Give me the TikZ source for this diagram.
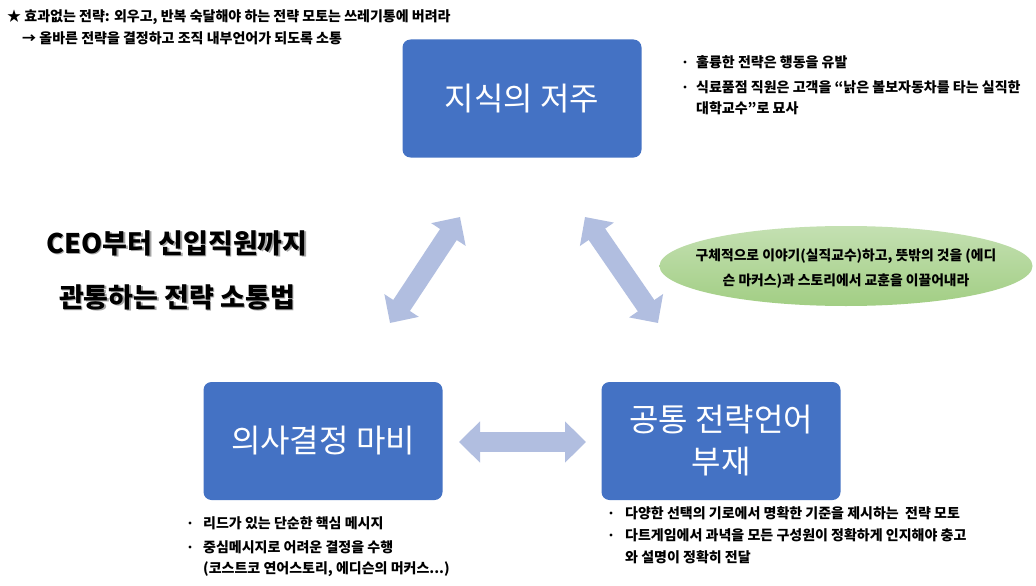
\documentclass[tikz,border=0pt]{standalone}
\usepackage{fontspec}
\setmainfont{Noto Sans CJK KR}
\usetikzlibrary{arrows.meta}
\definecolor{boxblue}{HTML}{4472C4}
\definecolor{linkblue}{RGB}{177,190,224}
\definecolor{leaftop}{RGB}{196,224,178}
\definecolor{leafbottom}{RGB}{162,206,132}
\begin{document}
\begin{tikzpicture}[x=1pt,y=-1pt,
  topic/.style={fill=boxblue,rounded corners=8pt,text=white,align=center,
    minimum width=239pt,minimum height=118pt,font=\fontsize{32}{42}\selectfont},
  note/.style={anchor=west,inner sep=0pt,font=\bfseries\fontsize{14}{16}\selectfont},
  headline/.style={inner sep=0pt,font=\bfseries\fontsize{27}{30}\selectfont},
  link/.style={linkblue,line width=20pt,
    {Triangle[length=21pt,width=40pt]}-{Triangle[length=21pt,width=40pt]}}]
  \fill[white] (0,0) rectangle (1036,586);
  \useasboundingbox (0,0) rectangle (1036,586);

  % top left remark
  \node[note] (star) at (7,17) {★ 효과없는 전략: 외우고, 반복 숙달해야 하는 전략 모토는 쓰레기통에 버려라};
  \node[note] (hint) at (22,38) {→ 올바른 전략을 결정하고 조직 내부언어가 되도록 소통};

  % three boxes
  \node[topic] (curse) at (522,98.5) {지식의 저주};
  \node[topic] (paralysis) at (323,441) {의사결정 마비};
  \node[topic] (language) at (721,441) {공통 전략언어\\부재};

  % double arrows between the boxes
  \coordinate (cl) at (460,217);
  \coordinate (pl) at (390,323);
  \coordinate (cr) at (585,217);
  \coordinate (lr) at (658,323);
  \coordinate (ph) at (459,442);
  \coordinate (lh) at (586,442);
  \draw[link] (pl) -- (cl);
  \draw[link] (cr) -- (lr);
  \draw[link] (ph) -- (lh);

  % title
  \node[headline,text=black!35] at (178.5,244.5) {CEO부터 신입직원까지};
  \node[headline] (title1) at (177,243) {CEO부터 신입직원까지};
  \node[headline,text=black!35] at (178.5,298.5) {관통하는 전략 소통법};
  \node[headline] (title2) at (177,297) {관통하는 전략 소통법};

  % green story bubble
  \shade[top color=leaftop,bottom color=leafbottom] (846,266) ellipse (186.5 and 40);
  \node[note,anchor=center,align=center,font=\bfseries\fontsize{13.8}{25}\selectfont] (story) at (846,269)
    {구체적으로 이야기(실직교수)하고, 뜻밖의 것을 (에디\\ 슨 마커스)과 스토리에서 교훈을 이끌어내라};

  % notes beside the boxes
  \foreach \y in {62,87} \fill (685,\y) circle (1.6);
  \node[note] (n1) at (696,62) {훌륭한 전략은 행동을 유발};
  \node[note] (n2) at (696,87) {식료품점 직원은 고객을 “낡은 볼보자동차를 타는 실직한};
  \node[note] (n3) at (696,108) {대학교수”로 묘사};

  \foreach \y in {523,547} \fill (190,\y) circle (1.6);
  \node[note] (m1) at (203,523) {리드가 있는 단순한 핵심 메시지};
  \node[note] (m2) at (203,547) {중심메시지로 어려운 결정을 수행};
  \node[note] (m3) at (203,569) {(코스트코 연어스토리, 에디슨의 머커스...)};

  \foreach \y in {513,535} \fill (611,\y) circle (1.6);
  \node[note] (k1) at (625,513) {다양한 선택의 기로에서 명확한 기준을 제시하는\ \ 전략 모토};
  \node[note] (k2) at (625,535) {다트게임에서 과녁을 모든 구성원이 정확하게 인지해야 충고};
  \node[note] (k3) at (625,557) {와 설명이 정확히 전달};
\end{tikzpicture}
\end{document}
